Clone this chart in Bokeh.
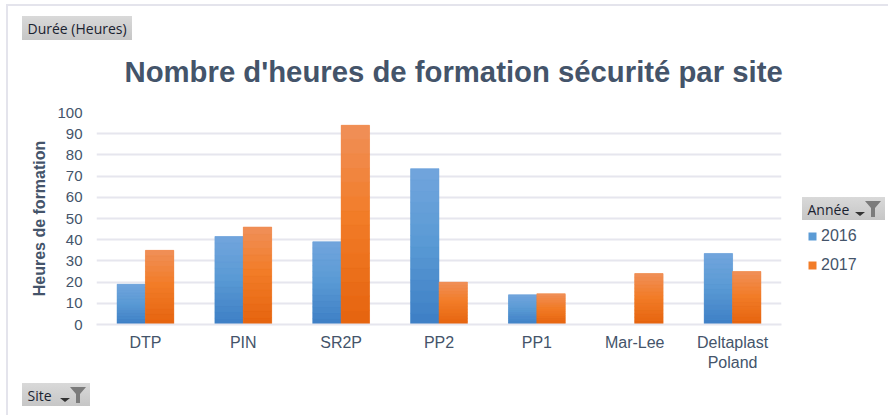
from urllib.parse import quote
from bokeh.embed import file_html
from bokeh.resources import INLINE
from bokeh.plotting import figure
from bokeh.models import (ColumnDataSource, FactorRange, Range1d, Label,
                          Legend, LegendItem, FixedTicker)
from bokeh.transform import dodge

sites = ["DTP", "PIN", "SR2P", "PP2", "PP1", "Mar-Lee", "Deltaplast\nPoland"]
y2016 = [19, 41.5, 39, 73.5, 14, None, 33.5]
y2017 = [35, 46, 94, 20, 14.5, 24, 25]
y_ticks = list(range(0, 101, 10))
chart_title = "Nombre d'heures de formation sécurité par site"
y_title = "Heures de formation"
years = ["2016", "2017"]

W, H = 888, 415
L, R, T, B = 96, 781, 112, 324
GRID = "#E6E6EE"
TXT = "#44546A"


# Page furniture behind the transparent figure: chart frame, filter buttons and their icons.
def pill_svg(x0, x1, y0, y1, funnel):
    s = f'<rect x="{x0}" y="{y0}" width="{x1 - x0}" height="{y1 - y0}" fill="url(#g)"/>'
    if funnel:
        fx = x1 - 12
        s += (f'<path d="M{fx - 8} {y0 + 4}H{fx + 8}L{fx + 2} {y0 + 11}V{y0 + 20}H{fx - 2}V{y0 + 11}Z" '
              f'fill="#7B7B7B"/>')
        ax = fx - 13
        s += f'<path d="M{ax - 5} {y0 + 15}H{ax + 5}L{ax} {y0 + 19}Z" fill="#333333"/>'
    return s


svg = (f'<svg xmlns="http://www.w3.org/2000/svg" width="{W}" height="{H}">'
       '<defs><linearGradient id="g" x1="0" y1="0" x2="0" y2="1">'
       '<stop offset="0" stop-color="#D9D9D9"/><stop offset="1" stop-color="#C6C6C6"/>'
       '</linearGradient></defs>'
       f'<rect x="6" y="4" width="{W}" height="2" fill="#E4E4EC"/>'
       f'<rect x="6" y="4" width="2" height="{H}" fill="#E4E4EC"/>'
       + pill_svg(22, 132, 16, 40, False) + pill_svg(22, 90, 383, 406, True) + pill_svg(802, 885, 197, 220, True)
       + '</svg>')

p = figure(width=W, height=H, x_range=FactorRange(factors=sites, range_padding=0),
           y_range=Range1d(0, 100), output_backend="svg", toolbar_location=None,
           frame_width=R - L, frame_height=B - T,
           min_border_left=L, min_border_right=W - R, min_border_top=T, min_border_bottom=H - B,
           outline_line_color=None, background_fill_color=None, border_fill_color=None,
           styles={"background-image": f'url("data:image/svg+xml,{quote(svg)}")',
                   "background-repeat": "no-repeat", "background-position": "0 0",
                   "background-size": f"{W}px {H}px"})

p.xgrid.visible = False
p.ygrid.grid_line_color = GRID
p.ygrid.grid_line_width = 2
p.yaxis.ticker = FixedTicker(ticks=y_ticks)
p.yaxis.axis_line_color = None
p.yaxis.major_tick_line_color = None
p.yaxis.minor_tick_line_color = None
p.yaxis.major_label_text_font = "Liberation Sans"
p.yaxis.major_label_text_font_size = "15px"
p.yaxis.major_label_text_color = TXT
p.yaxis.major_label_standoff = 8
p.yaxis.axis_label = y_title
p.yaxis.axis_label_text_font = "Liberation Sans"
p.yaxis.axis_label_text_font_size = "16px"
p.yaxis.axis_label_text_font_style = "bold"
p.yaxis.axis_label_text_color = TXT
p.yaxis.axis_label_standoff = 6
p.xaxis.axis_line_color = GRID
p.xaxis.axis_line_width = 2
p.xaxis.major_tick_line_color = None
p.xaxis.minor_tick_line_color = None
p.xaxis.major_label_text_font = "Liberation Sans"
p.xaxis.major_label_text_font_size = "16px"
p.xaxis.major_label_text_color = TXT
p.xaxis.major_label_standoff = 3
p.xaxis.major_label_orientation = "horizontal"


def mix(a, b, t):
    return "#%02x%02x%02x" % tuple(round(a[i] + (b[i] - a[i]) * t) for i in range(3))


BAR_W = 0.29
N_SLICES = 14


def series(vals, off, stops):
    src = ColumnDataSource(dict(site=sites, v=vals))
    r = p.vbar(x=dodge("site", off, range=p.x_range), top="v", width=BAR_W, source=src,
               fill_color=mix(stops[1], stops[1], 0), line_color=None)
    sx, st, sb, sc = [], [], [], []
    for s, v in zip(sites, vals):
        if v is None:
            continue
        for i in range(N_SLICES):
            t = i / (N_SLICES - 1)
            sx.append(s)
            sb.append(v * i / N_SLICES)
            st.append(v * (i + 1) / N_SLICES)
            c = mix(stops[0], stops[1], t / 0.55) if t < 0.55 else mix(stops[1], stops[2], (t - 0.55) / 0.45)
            sc.append(c)
    g = ColumnDataSource(dict(site=sx, top=st, bottom=sb, color=sc))
    p.vbar(x=dodge("site", off, range=p.x_range), top="top", bottom="bottom", width=BAR_W, source=g,
           fill_color="color", line_color="color", line_width=0.5)
    return r


r16 = series(y2016, -BAR_W / 2, [(0x3F, 0x80, 0xC6), (0x5B, 0x9B, 0xD5), (0x70, 0xA4, 0xDC)])
r17 = series(y2017, BAR_W / 2, [(0xE6, 0x65, 0x10), (0xF2, 0x7C, 0x28), (0xF0, 0x8E, 0x55)])

legend = Legend(items=[LegendItem(label=years[0], renderers=[r16]), LegendItem(label=years[1], renderers=[r17])],
                location=(26, 50), border_line_color=None, background_fill_alpha=0,
                glyph_width=10, glyph_height=10, label_text_font="Liberation Sans",
                label_text_font_size="16px", label_text_color=TXT, spacing=11, padding=0, margin=0,
                label_standoff=4, label_height=18)
p.add_layout(legend, "right")

p.add_layout(Label(x=124, y=71, x_units="canvas", y_units="canvas", text=chart_title, text_font="Liberation Sans",
                   text_font_size="29.3px", text_font_style="bold", text_color=TXT, text_baseline="alphabetic"),
             "above")

for x, y, text in [(27, 28, "Durée (Heures)"), (27, 394.5, "Site"), (807, 208.5, "Année")]:
    p.add_layout(Label(x=x, y=y, x_units="canvas", y_units="canvas", text=text, text_font="Open Sans",
                       text_font_size="14px", text_color="#1A2230", text_baseline="middle"), "above")

open("out.html", "w").write(file_html(p, INLINE))
